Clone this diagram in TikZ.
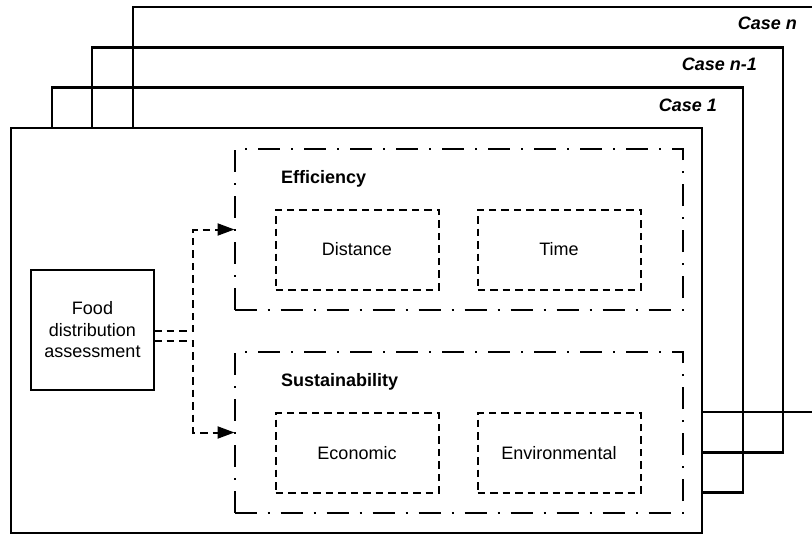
\documentclass[tikz,border=0pt]{standalone}
\usepackage{fontspec}
\setmainfont{Liberation Sans}
\usetikzlibrary{arrows.meta}
\tikzset{
  casebox/.style={draw=black, line width=2.1pt, minimum width=691pt, minimum height=405pt, inner sep=0pt, outer sep=0pt},
  groupbox/.style={draw=black, line width=2pt, dash pattern=on 22pt off 11pt on 2pt off 11pt, minimum width=448pt, minimum height=161pt, inner sep=0pt, outer sep=0pt},
  itembox/.style={draw=black, line width=2pt, dash pattern=on 7.5pt off 5pt, minimum width=163pt, minimum height=80pt, inner sep=0pt, outer sep=0pt, font=\fontsize{18}{21}\selectfont},
  caselabel/.style={font=\fontsize{18}{21}\selectfont\bfseries\itshape, inner sep=0pt, anchor=base east},
  grouplabel/.style={font=\fontsize{18}{21}\selectfont\bfseries, inner sep=0pt, anchor=base west},
  flow/.style={line width=2pt, dash pattern=on 7.5pt off 5pt, -{Triangle[length=17pt,width=12pt]}}
}
\begin{document}
\begin{tikzpicture}[x=1pt,y=-1pt]
\useasboundingbox (0,0) rectangle (812,535);
\clip (0,0) rectangle (812,535);
% stacked cases
\node[casebox] (casen) at (478.5,209.5) {};
\node[casebox] (casenm) at (437.5,250) {};
\node[casebox] (caseone) at (397.5,290) {};
\node[casebox, fill=white] (front) at (356.5,330.5) {};
\node[caselabel] (lblcasen) at (797,30) {Case n};
\node[caselabel] (lblcasenm) at (757,71) {Case n-1};
\node[caselabel] (lblcaseone) at (717,111) {Case 1};
% groups
\node[groupbox] (eff) at (458.5,229.5) {};
\node[groupbox] (sus) at (458.5,432.5) {};
\node[grouplabel] (efflbl) at (281,183) {Efficiency};
\node[grouplabel] (suslbl) at (281,386) {Sustainability};
% items
\node[itembox] (dist) at (357,249.5) {Distance};
\node[itembox] (time) at (559,249.5) {Time};
\node[itembox] (econ) at (357,453) {Economic};
\node[itembox] (env) at (559,453) {Environmental};
% food box
\node[draw=black, line width=2pt, minimum width=123pt, minimum height=120pt, inner sep=0pt, outer sep=0pt, align=center, font=\fontsize{18}{21.5}\selectfont] (food) at (92.5,330) {Food\\distribution\\assessment};
% connectors
\draw[flow] ([yshift=-1pt]food.east) -- ++(39,0) |- (eff.west);
\draw[flow] ([yshift=-11pt]food.east) -- ++(39,0) |- (sus.west);
\end{tikzpicture}
\end{document}
